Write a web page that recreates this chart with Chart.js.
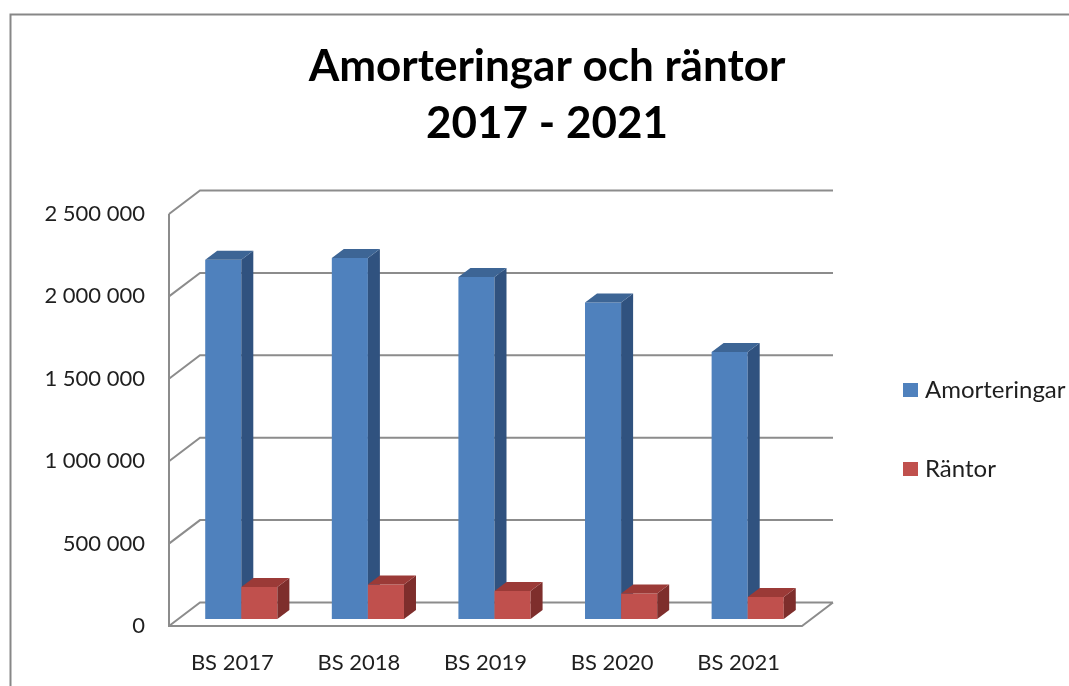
<!DOCTYPE html>
<html>
<head>
<meta charset="utf-8">
<script src="https://cdn.jsdelivr.net/npm/chart.js@4"></script>
<style>
  html, body { margin: 0; padding: 0; background: #fff; }
  canvas { display: block; }
</style>
</head>
<body>
<canvas id="chart" width="1069" height="686"></canvas>
<script>
const categories = ['BS 2017', 'BS 2018', 'BS 2019', 'BS 2020', 'BS 2021']
const amorteringar = [2180000, 2190000, 2075000, 1920000, 1620000]
const rantor = [194000, 209000, 170000, 154000, 134000]
const yTicks = [0, 500000, 1000000, 1500000, 2000000, 2500000]
const titleLines = ['Amorteringar och räntor', '2017 - 2021']

const FONT = 'Lato, "Open Sans", sans-serif'
const TEXT = '#1f1f1f'
const GRID = '#8c8c8c'
// offsets of the fake 3d projection
const WALL = { x: 31, y: -23.5 }
const BAR_SHIFT = { x: 9, y: -7 }
const BAR_DEPTH = { x: 12, y: -9 }

const faces = [
  { front: '#4f81bd', side: '#30527f', top: '#3d6595' },
  { front: '#c0504d', side: '#7e2e2c', top: '#9b3a37' }
]

const formatNumber = (v) => String(v).replace(/\B(?=(\d{3})+(?!\d))/g, ' ')

const poly = (ctx, pts, color) => {
  ctx.fillStyle = color
  ctx.beginPath()
  pts.forEach(([x, y], i) => (i ? ctx.lineTo(x, y) : ctx.moveTo(x, y)))
  ctx.closePath()
  ctx.fill()
}

const excel3d = {
  id: 'excel3d',
  beforeDraw (chart) {
    const { ctx, chartArea: a, scales: { y } } = chart
    ctx.save()
    // outer frame
    ctx.strokeStyle = '#878787'
    ctx.lineWidth = 2
    ctx.beginPath()
    ctx.moveTo(10.5, chart.height)
    ctx.lineTo(10.5, 14.5)
    ctx.lineTo(chart.width, 14.5)
    ctx.stroke()
    // back wall, side wall, floor
    ctx.strokeStyle = GRID
    ctx.lineWidth = 2
    ctx.beginPath()
    yTicks.forEach(v => {
      const py = y.getPixelForValue(v)
      ctx.moveTo(a.left, py)
      ctx.lineTo(a.left + WALL.x, py + WALL.y)
      ctx.lineTo(a.right + WALL.x, py + WALL.y)
    })
    ctx.moveTo(a.left, a.top)
    ctx.lineTo(a.left, a.bottom)
    ctx.lineTo(a.right, a.bottom)
    ctx.lineTo(a.right + WALL.x, a.bottom + WALL.y)
    ctx.stroke()
    ctx.restore()
  },
  beforeDatasetsDraw (chart) {
    const { ctx } = chart
    const metas = chart.getSortedVisibleDatasetMetas()
    ctx.save()
    ctx.translate(BAR_SHIFT.x, BAR_SHIFT.y)
    categories.forEach((c, i) => {
      metas.forEach((meta) => {
        const el = meta.data[i]
        const f = faces[meta.index]
        const l = el.x - el.width / 2
        const r = el.x + el.width / 2
        el.draw(ctx)
        poly(ctx, [[r, el.y], [r + BAR_DEPTH.x, el.y + BAR_DEPTH.y], [r + BAR_DEPTH.x, el.base + BAR_DEPTH.y], [r, el.base]], f.side)
        poly(ctx, [[l, el.y], [l + BAR_DEPTH.x, el.y + BAR_DEPTH.y], [r + BAR_DEPTH.x, el.y + BAR_DEPTH.y], [r, el.y]], f.top)
      })
    })
    ctx.restore()
    return false
  },
  afterDraw (chart) {
    const { ctx } = chart
    ctx.save()
    ctx.fillStyle = '#000'
    ctx.textAlign = 'center'
    ctx.textBaseline = 'alphabetic'
    ctx.font = `bold 44px ${FONT}`
    ctx.fillText(titleLines[0], 547, 81)
    ctx.fillText(titleLines[1], 547, 138)

    ctx.textAlign = 'left'
    ctx.textBaseline = 'middle'
    ctx.font = `24px ${FONT}`
    chart.data.datasets.forEach((ds, k) => {
      const cy = 390 + k * 79
      ctx.fillStyle = ds.backgroundColor
      ctx.fillRect(903, cy - 7, 15, 14)
      ctx.fillStyle = TEXT
      ctx.fillText(ds.label, 925, cy)
    })
    ctx.restore()
  }
}

const myChart = new Chart(document.getElementById('chart'), {
  type: 'bar',
  data: {
    labels: categories,
    datasets: [
      { label: 'Amorteringar', data: amorteringar, backgroundColor: faces[0].front },
      { label: 'Räntor', data: rantor, backgroundColor: faces[1].front }
    ]
  },
  options: {
    responsive: false,
    devicePixelRatio: 1,
    animation: false,
    categoryPercentage: 0.57,
    barPercentage: 1,
    layout: {
      padding: { top: 214, right: 267, bottom: 0, left: 0 }
    },
    plugins: {
      legend: { display: false },
      title: { display: false },
      tooltip: { enabled: false }
    },
    scales: {
      x: {
        grid: { display: false },
        border: { display: false },
        ticks: {
          color: TEXT,
          padding: 16,
          font: { family: FONT, size: 22 }
        },
        afterFit: (scale) => { scale.height = 60 }
      },
      y: {
        min: 0,
        max: 2500000,
        grid: { display: false, drawTicks: false },
        border: { display: false },
        afterBuildTicks: (scale) => { scale.ticks = yTicks.map(v => ({ value: v })) },
        ticks: {
          color: TEXT,
          padding: 24,
          font: { family: FONT, size: 22 },
          callback: (v) => formatNumber(v)
        },
        afterFit: (scale) => { scale.width = 169 }
      }
    }
  },
  plugins: [excel3d]
})
</script>
</body>
</html>
